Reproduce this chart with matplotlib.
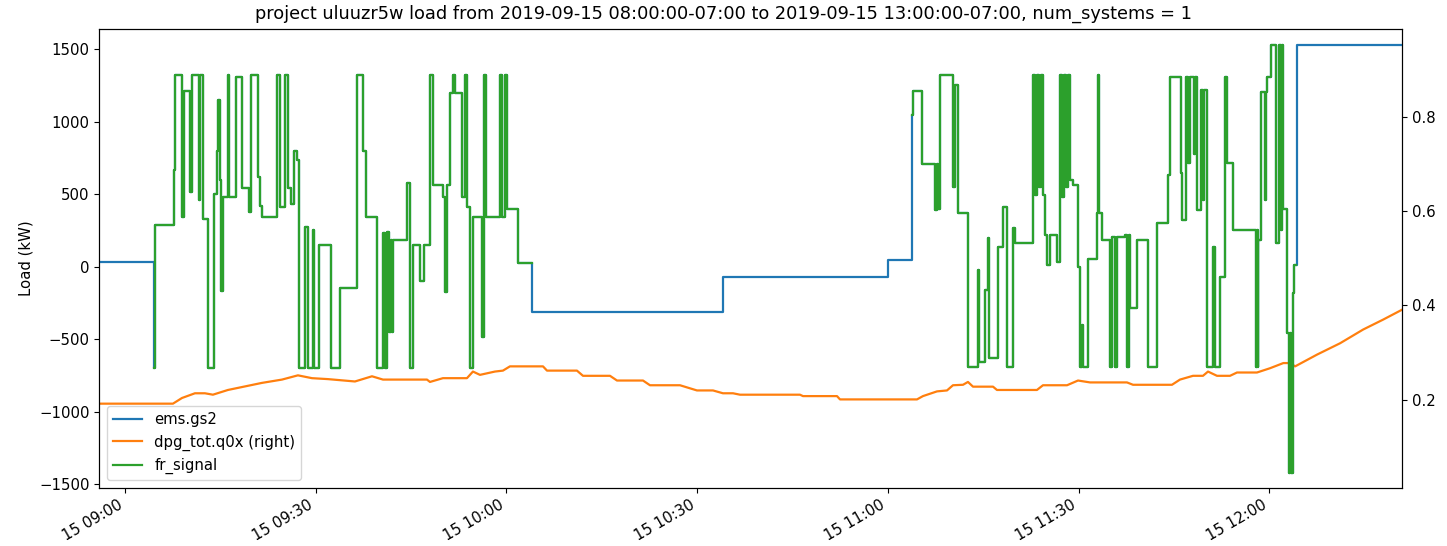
import matplotlib
matplotlib.use("Agg")
import matplotlib.pyplot as plt
import matplotlib.dates as mdates
import numpy as np
import pandas as pd

plt.rcParams["font.size"] = 10.7
plt.rcParams["lines.linewidth"] = 1.6

# minutes after 2019-09-15 09:00
t_start = -4.04
t_end = 200.93

# fr_signal, first active block (step values, kW)
fr1_min = [4.6, 4.7, 7.7, 7.9, 9.0, 9.3, 10.2, 10.5, 11.6, 11.8, 12.2, 12.3, 13.1,
           14.0, 14.5, 14.7, 14.9, 15.1, 15.4, 16.2, 16.4, 17.4, 18.4, 19.5, 19.9,
           20.9, 21.2, 21.5, 23.9, 24.4, 25.2, 25.7, 26.1, 26.6, 27.0, 27.4, 28.3,
           28.8, 29.6, 29.7, 30.6, 32.4, 33.8, 36.5, 37.5, 37.9, 39.6, 40.6, 40.9,
           41.2, 41.5, 41.8, 42.0, 42.2, 44.4, 44.8, 45.3, 46.4, 47.0, 48.0, 48.4,
           50.0, 50.3, 50.6, 51.1, 51.6, 51.9, 53.0, 53.5, 53.8, 54.3, 54.7, 56.2,
           56.5, 56.8, 59.0, 59.3, 59.8, 60.1, 61.8, 64.0]
fr1_val = [-700, 288, 670, 1322, 345, 1215, 517, 1322, 460, 1322, 460, 330, -700,
           500, 800, 1150, 600, -170, 480, 1322, 483, 1310, 545, 379, 1322,
           621, 420, 345, 1322, 414, 1322, 540, 430, 800, 736, -700, 276,
           -700, 250, -700, 150, -700, -150, 1322, 800, 345, -700, 230, -700,
           240, -450, 184, -450, 184, 575, -700, 150, -100, 150, 1320, 563,
           481, -172, 563, 1200, 1320, 1200, 483, 1320, 414, -700, 345, -483,
           1320, 345, 1320, 345, 1320, 397, 25, np.nan]

# fr_signal, second active block
fr2_min = [123.76, 123.96, 125.33, 127.42, 127.74, 127.89, 128.21, 130.30, 130.57,
           131.04, 132.66, 134.19, 134.34, 135.29, 135.76, 135.92, 137.33, 138.12,
           138.70, 139.69, 140.01, 142.83, 143.15, 143.46, 143.78, 144.09, 144.41,
           144.73, 145.04, 145.51, 146.61, 147.09, 147.40, 147.72, 148.03, 148.34,
           148.66, 149.13, 149.92, 150.23, 150.55, 150.70, 151.49, 152.91, 153.06,
           153.22, 153.69, 154.95, 155.26, 155.74, 156.05, 157.31, 157.62, 157.94,
           158.09, 159.20, 160.93, 162.39, 164.12, 164.39, 166.07, 166.28, 166.91,
           167.22, 167.54, 168.17, 168.32, 168.59, 169.22, 169.58, 169.74, 170.16,
           171.11, 171.47, 172.26, 173.04, 173.36, 174.35, 177.92, 178.07, 178.17,
           178.28, 178.66, 179.33, 179.49, 179.70, 180.23, 181.07, 181.59, 181.86,
           182.01, 182.22, 182.85, 183.04, 183.28, 183.43, 183.70, 183.91, 184.17]
fr2_val = [1046, 1214, 708, 391, 708, 400, 1322, 552, 1250,
           368, -690, -23, -655, -161, 197, -632, 138, 414,
           -690, 267, 161, 1322, 494, 1322, 550, 1322, 494,
           219, 12, 219, 34, 1322, 480, 1322, 550, 1322,
           600, 563, 0, -690, -400, -690, 53, 368, 1320,
           368, 184, -690, 207, -690, 207, 219, -690, 219,
           -287, 184, -690, 299, 630, 1310, 644, 322, 1310,
           713, 1310, 780, 1310, 391, 1220, 460, 1220, -690,
           138, -690, -69, 1310, 713, 253, -690, 253, -690,
           184, 1207, 460, 1207, 1310, 1529, 161, 1529, 253,
           1529, 399, -459, -1425, -459, -1425, -183, 12, np.nan]

# ems.gs2 where fr_signal is not active
gs2_pre_min = [t_start]
gs2_pre_val = [30]
gs2_mid_min = [64.0, 94.12, 120.07]
gs2_mid_val = [-310, -69, 46]
gs2_post_min = [184.33, t_end]
gs2_post_val = [1529, 1532]

# dpg_tot.q0x (right axis)
q0x_min = [-4.04, 7.55, 8.97, 11.01, 12.58, 13.84, 16.20, 21.55, 24.70, 27.21, 29.42,
           31.93, 36.18, 38.86, 40.59, 47.51, 47.98, 50.02, 53.80, 54.74, 55.85,
           58.20, 59.46, 60.56, 65.76, 66.39, 71.10, 72.05, 76.30, 77.40, 81.49,
           82.59, 87.31, 89.98, 92.50, 94.07, 95.65, 96.75, 106.18, 106.66, 112.01,
           112.48, 124.59, 125.53, 127.74, 129.31, 130.25, 131.83, 132.61, 133.40,
           136.55, 137.17, 143.46, 144.41, 148.19, 149.92, 151.81, 157.62, 158.57,
           163.29, 164.70, 165.96, 168.01, 169.58, 170.37, 171.78, 173.83, 174.93,
           178.07, 180.11, 182.22, 183.28, 184.07, 187.53, 191.15, 194.77, 197.91,
           200.89]
q0x_val = [0.192, 0.192, 0.204, 0.214, 0.214, 0.211, 0.221, 0.236, 0.243, 0.252, 0.246,
           0.244, 0.239, 0.250, 0.243, 0.243, 0.238, 0.246, 0.246, 0.260, 0.253,
           0.260, 0.262, 0.271, 0.271, 0.262, 0.262, 0.251, 0.251, 0.241, 0.241,
           0.231, 0.231, 0.220, 0.220, 0.214, 0.214, 0.211, 0.211, 0.208, 0.208,
           0.201, 0.201, 0.208, 0.218, 0.220, 0.231, 0.232, 0.238, 0.228,
           0.228, 0.221, 0.221, 0.231, 0.231, 0.241, 0.237, 0.237, 0.232,
           0.232, 0.232, 0.243, 0.251, 0.251, 0.260, 0.251, 0.251, 0.258,
           0.258, 0.267, 0.278, 0.278, 0.271, 0.296, 0.320, 0.349, 0.370,
           0.391]

t0 = pd.Timestamp("2019-09-15 09:00")


def to_time(minutes):
    return t0 + pd.to_timedelta(np.asarray(minutes, dtype=float), unit="min")


# ems.gs2 tracks fr_signal while the signal is active
gs2_min = gs2_pre_min + fr1_min[:-1] + gs2_mid_min + fr2_min[:-1] + gs2_post_min
gs2_val = gs2_pre_val + fr1_val[:-1] + gs2_mid_val + fr2_val[:-1] + gs2_post_val

fr_min = fr1_min + fr2_min
fr_val = fr1_val + fr2_val

fig = plt.figure(figsize=(14.47, 5.46), dpi=100)
ax = fig.add_axes([0.0686, 0.1068, 0.9005, 0.8395])
ax2 = ax.twinx()

l1, = ax.plot(to_time(gs2_min), gs2_val, color="C0", drawstyle="steps-post", label="ems.gs2")
l3, = ax.plot(to_time(fr_min), fr_val, color="C2", drawstyle="steps-post", label="fr_signal")
l2, = ax2.plot(to_time(q0x_min), q0x_val, color="C1", label="dpg_tot.q0x (right)")

ax.set_zorder(ax2.get_zorder() + 1)
ax.patch.set_visible(False)

ax.set_xlim(to_time([t_start])[0], to_time([t_end])[0])
ax.set_ylim(-1524, 1637)
ax2.set_ylim(0.014, 0.985)
ax2.set_yticks([0.2, 0.4, 0.6, 0.8])

ax.xaxis.set_major_locator(mdates.MinuteLocator(byminute=[0, 30]))
ax.xaxis.set_major_formatter(mdates.DateFormatter("%d %H:%M"))
for lab in ax.get_xticklabels():
    lab.set_rotation(30)
    lab.set_ha("right")

ax.set_ylabel("Load (kW)")
fig.suptitle("project uluuzr5w load from 2019-09-15 08:00:00-07:00 to 2019-09-15 "
             "13:00:00-07:00, num_systems = 1", fontsize=12.8, y=0.992)
ax.legend([l1, l2, l3], ["ems.gs2", "dpg_tot.q0x (right)", "fr_signal"], loc="lower left")

fig.savefig("out.png", dpi=100)
